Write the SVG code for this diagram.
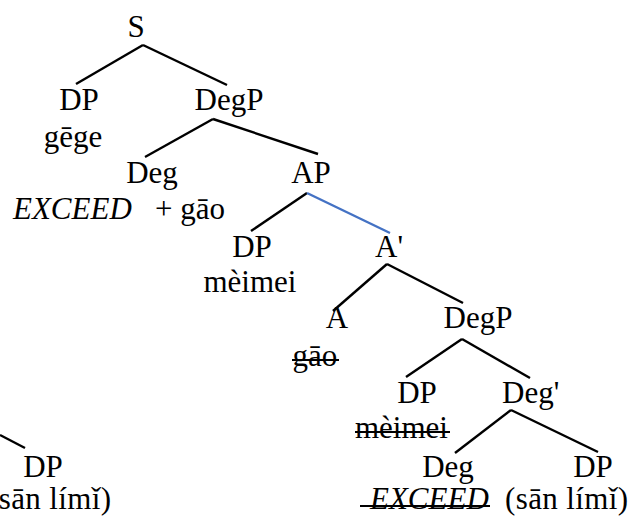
<svg xmlns="http://www.w3.org/2000/svg" width="632" height="516" viewBox="0 0 632 516">
<style>
.t text{font-family:"Liberation Serif","Times New Roman",serif;font-size:31px;fill:#000;}
.m{text-anchor:middle;}
.i{font-style:italic;}
.e{stroke:#000;stroke-width:2.4;fill:none;stroke-linecap:butt;}
.b{stroke:#4472C4;}
.s{stroke:#000;stroke-width:2;}
</style>
<rect width="632" height="516" fill="#fff"/>
<g id="connectors">
<line class="e" x1="143" y1="45" x2="76" y2="84"/>
<line class="e" x1="143" y1="45" x2="227" y2="85"/>
<line class="e" x1="213" y1="119" x2="145" y2="157"/>
<line class="e" x1="213" y1="119" x2="318" y2="154"/>
<line class="e" x1="307" y1="193" x2="251" y2="231"/>
<line class="e b" x1="307" y1="193" x2="390" y2="233"/>
<line class="e" x1="387" y1="264" x2="333" y2="311"/>
<line class="e" x1="387" y1="264" x2="463" y2="303"/>
<line class="e" x1="462" y1="339" x2="406" y2="377"/>
<line class="e" x1="462" y1="339" x2="530" y2="378"/>
<line class="e" x1="511" y1="410" x2="455" y2="453"/>
<line class="e" x1="511" y1="410" x2="598" y2="452"/>
<line class="e" x1="0" y1="435" x2="25" y2="448"/>
</g>
<g class="t">
<g id="n-S"><text class="m" x="136" y="37">S</text></g>
<g id="n-DP1"><text class="m" x="79" y="110">DP</text><text class="m" x="73" y="147">gēge</text></g>
<g id="n-DegP1"><text class="m" x="229" y="110">DegP</text></g>
<g id="n-Deg1"><text class="m" x="152" y="183">Deg</text><text class="i" x="13" y="219">EXCEED</text><text x="155" y="219">+ gāo</text></g>
<g id="n-AP"><text class="m" x="311" y="183">AP</text></g>
<g id="n-DP2"><text class="m" x="252" y="257">DP</text><text class="m" x="250" y="292">mèimei</text></g>
<g id="n-Abar"><text class="m" x="389" y="257">A'</text></g>
<g id="n-A"><text class="m" x="337" y="328">A</text><text class="m" x="315" y="366">gāo</text><line class="s" x1="292" y1="360" x2="339" y2="360"/></g>
<g id="n-DegP2"><text class="m" x="478" y="328">DegP</text></g>
<g id="n-DP3"><text class="m" x="417" y="403">DP</text><text x="355" y="438">mèimei</text><line class="s" x1="355" y1="432" x2="450" y2="432"/></g>
<g id="n-Degbar"><text x="502" y="403">Deg'</text></g>
<g id="n-Deg2"><text class="m" x="448" y="477">Deg</text><text class="i" x="370" y="509">EXCEED</text><line class="s" x1="360" y1="506" x2="490" y2="506"/></g>
<g id="n-DP4"><text class="m" x="593" y="477">DP</text><text x="505" y="509" textLength="123" lengthAdjust="spacing">(sān límǐ)</text></g>
<g id="n-DP5"><text class="m" x="43" y="477">DP</text><text x="-12" y="509" textLength="123" lengthAdjust="spacing">(sān límǐ)</text></g>
</g>
</svg>
